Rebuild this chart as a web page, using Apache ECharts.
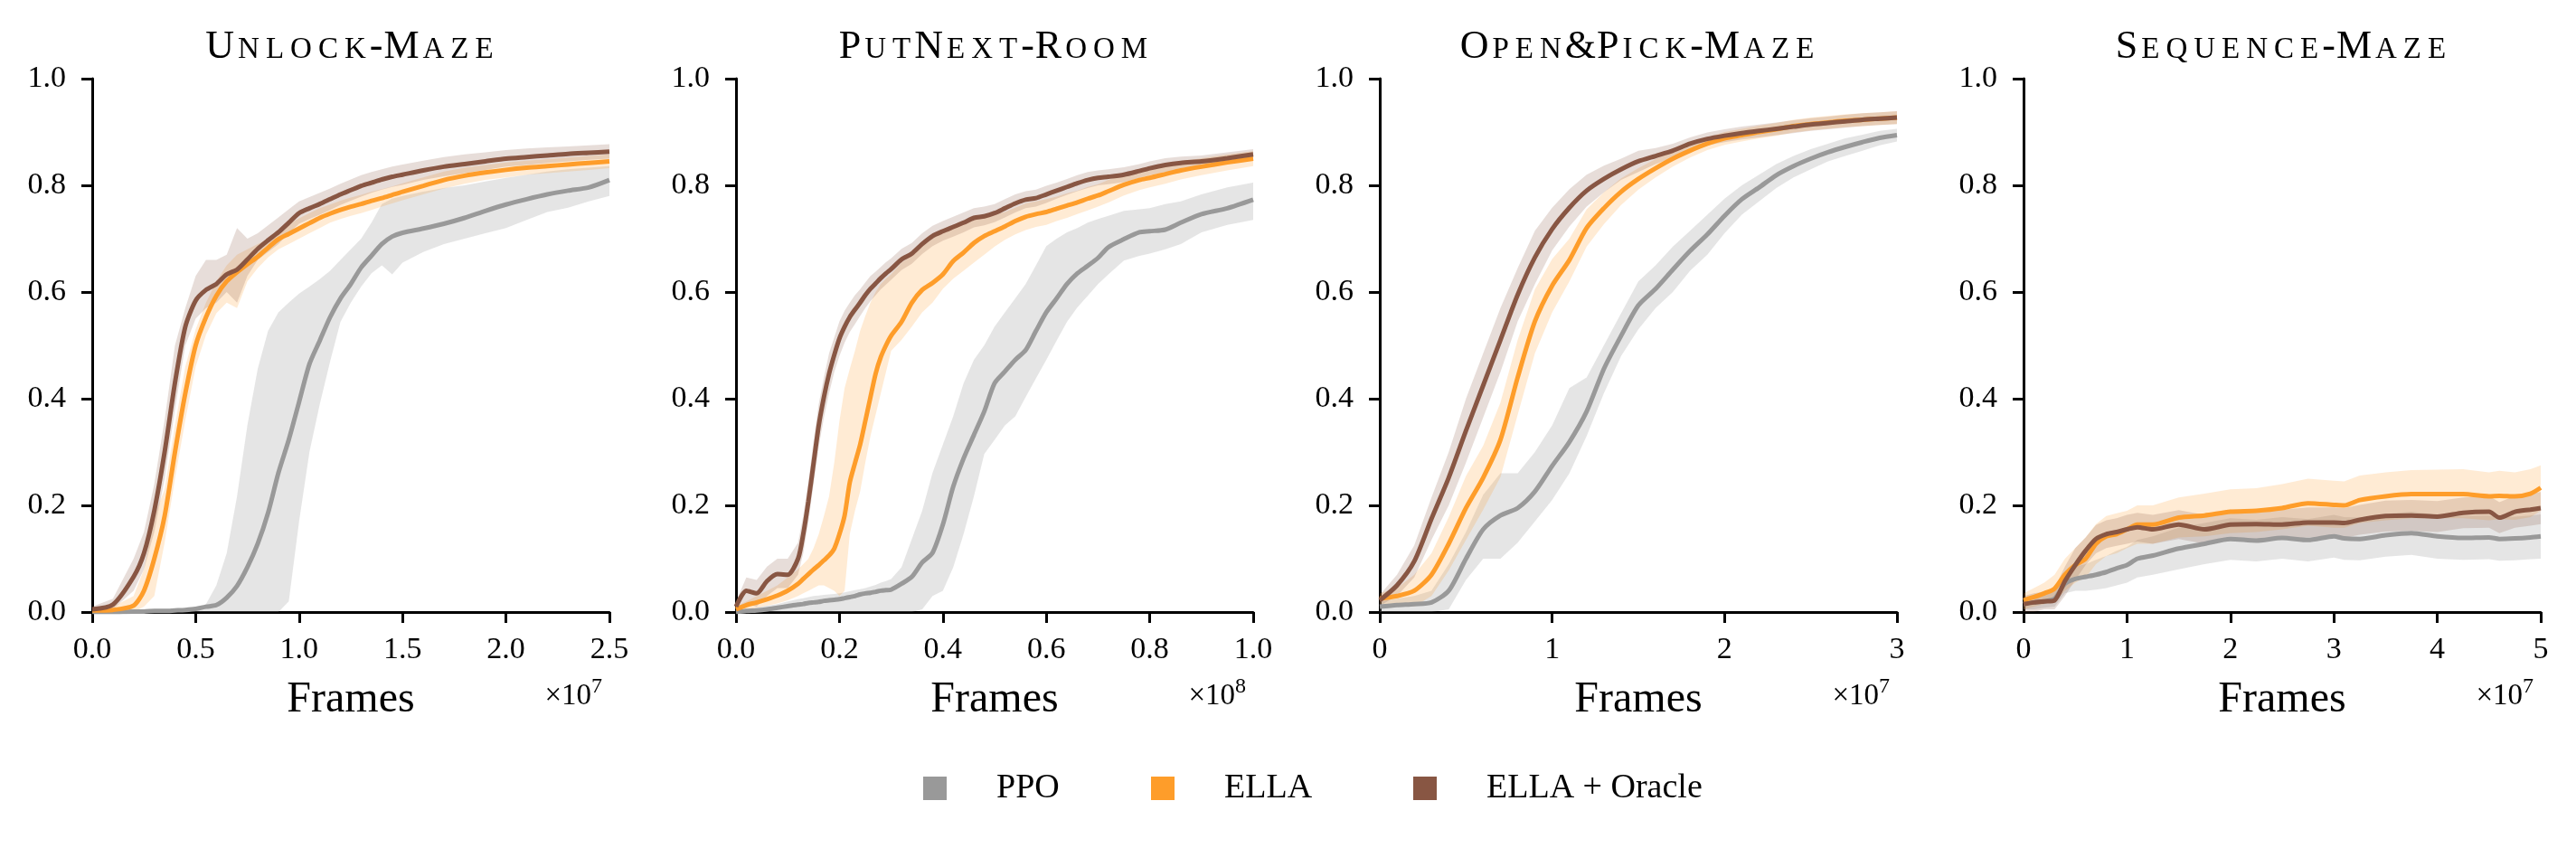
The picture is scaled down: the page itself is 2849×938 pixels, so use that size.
<!DOCTYPE html>
<html><head><meta charset="utf-8">
<script src="https://cdn.jsdelivr.net/npm/echarts/dist/echarts.min.js"></script>
<style>html,body{margin:0;padding:0;background:#fff}#c{width:2849px;height:938px}</style>
</head><body><div id="c"></div>
<script>
// ---------------- data ----------------
const METHODS = ['PPO', 'ELLA', 'ELLA + Oracle'];
const TITLES = ['Unlock-Maze', 'PutNext-Room', 'Open&Pick-Maze', 'Sequence-Maze'];
const X_MAX = [2.5, 1.0, 3, 5];
const X_INTERVAL = [0.5, 0.2, 1, 1];
const X_DECIMALS = [1, 1, 0, 0];
const X_EXPONENT = ['7', '8', '7', '7'];
const X_NAME = 'Frames';
const Y_MIN = 0, Y_MAX = 1, Y_INTERVAL = 0.2;

// Panel 1: Unlock-Maze (x in 1e7 frames)
const x1 = [0,0.1,0.2,0.25,0.3,0.35,0.4,0.45,0.5,0.55,0.6,0.65,0.7,0.75,0.8,0.85,0.9,0.95,1.0,1.05,1.1,1.15,1.2,1.25,1.3,1.35,1.4,1.45,1.5,1.6,1.7,1.8,1.9,2.0,2.1,2.2,2.3,2.4,2.5];
const ppo1Mean = [0,0,0.001,0.001,0.002,0.002,0.003,0.004,0.006,0.01,0.013,0.027,0.049,0.084,0.128,0.186,0.261,0.323,0.394,0.465,0.509,0.553,0.588,0.615,0.646,0.668,0.69,0.704,0.711,0.719,0.728,0.739,0.752,0.764,0.774,0.783,0.79,0.796,0.81];
const ppo1Lo = [0,0,0,0,0,0,0,0,0,0,0,0,0,0,0,0,0,0.02,0.17,0.30,0.39,0.47,0.544,0.58,0.61,0.635,0.65,0.633,0.655,0.675,0.69,0.70,0.71,0.72,0.735,0.75,0.758,0.77,0.78];
const ppo1Hi = [0.001,0.002,0.003,0.003,0.004,0.004,0.005,0.006,0.008,0.015,0.05,0.11,0.217,0.35,0.456,0.527,0.562,0.58,0.597,0.61,0.624,0.64,0.66,0.68,0.70,0.73,0.765,0.775,0.78,0.788,0.795,0.80,0.807,0.814,0.82,0.826,0.83,0.833,0.836];
const ella1Mean = [0.003,0.004,0.012,0.04,0.10,0.18,0.30,0.41,0.50,0.553,0.593,0.62,0.637,0.652,0.666,0.683,0.699,0.709,0.719,0.729,0.739,0.747,0.754,0.76,0.765,0.771,0.776,0.782,0.788,0.799,0.81,0.818,0.824,0.829,0.833,0.836,0.839,0.842,0.845];
const ella1Lo = [0,0,0,0.01,0.03,0.13,0.25,0.36,0.46,0.52,0.56,0.58,0.57,0.62,0.645,0.665,0.68,0.69,0.70,0.71,0.72,0.73,0.737,0.743,0.748,0.754,0.76,0.766,0.772,0.783,0.794,0.803,0.81,0.815,0.82,0.823,0.826,0.829,0.832];
const ella1Hi = [0.008,0.01,0.03,0.08,0.18,0.23,0.35,0.46,0.53,0.58,0.62,0.65,0.67,0.68,0.69,0.70,0.717,0.728,0.738,0.748,0.757,0.764,0.771,0.777,0.782,0.788,0.793,0.798,0.804,0.815,0.826,0.833,0.838,0.843,0.846,0.849,0.852,0.855,0.858];
const oracle1Mean = [0.005,0.014,0.066,0.11,0.19,0.30,0.43,0.535,0.584,0.604,0.615,0.633,0.642,0.661,0.681,0.697,0.712,0.73,0.748,0.757,0.765,0.774,0.783,0.791,0.799,0.805,0.811,0.816,0.82,0.828,0.835,0.84,0.845,0.85,0.853,0.856,0.859,0.861,0.863];
const oracle1Lo = [0,0.005,0.04,0.08,0.15,0.25,0.38,0.50,0.55,0.57,0.58,0.60,0.58,0.63,0.66,0.675,0.69,0.71,0.728,0.737,0.745,0.754,0.763,0.771,0.779,0.786,0.792,0.797,0.801,0.81,0.817,0.823,0.829,0.835,0.838,0.842,0.845,0.848,0.85];
const oracle1Hi = [0.01,0.025,0.10,0.15,0.24,0.36,0.50,0.57,0.63,0.66,0.66,0.67,0.72,0.70,0.71,0.725,0.74,0.755,0.77,0.778,0.786,0.794,0.803,0.811,0.819,0.825,0.83,0.835,0.839,0.846,0.853,0.858,0.862,0.866,0.869,0.871,0.873,0.875,0.877];

// Panel 2: PutNext-Room (x in 1e8 frames)
const x2 = [0,0.02,0.04,0.06,0.08,0.10,0.12,0.13,0.14,0.15,0.16,0.17,0.18,0.19,0.20,0.21,0.22,0.23,0.24,0.25,0.26,0.27,0.28,0.29,0.30,0.32,0.34,0.36,0.38,0.40,0.42,0.44,0.46,0.48,0.50,0.52,0.54,0.56,0.58,0.60,0.62,0.64,0.66,0.68,0.70,0.72,0.75,0.78,0.80,0.83,0.86,0.90,0.95,1.0];
const ppo2Mean = [0,0.002,0.003,0.005,0.008,0.011,0.014,0.015,0.017,0.018,0.019,0.021,0.022,0.023,0.024,0.026,0.028,0.03,0.033,0.035,0.036,0.038,0.04,0.041,0.042,0.053,0.066,0.093,0.111,0.164,0.235,0.288,0.332,0.376,0.429,0.451,0.473,0.491,0.527,0.562,0.588,0.615,0.635,0.649,0.664,0.684,0.699,0.712,0.714,0.717,0.73,0.746,0.757,0.773];
const ppo2Lo = [0,0,0,0,0,0,0,0,0,0,0,0,0,0,0,0,0,0,0,0,0,0,0,0,0,0,0,0.005,0.03,0.04,0.084,0.146,0.217,0.296,0.323,0.35,0.367,0.403,0.438,0.473,0.509,0.544,0.571,0.593,0.615,0.633,0.659,0.668,0.672,0.68,0.69,0.712,0.726,0.735];
const ppo2Hi = [0.003,0.006,0.009,0.012,0.015,0.02,0.024,0.026,0.028,0.03,0.031,0.032,0.033,0.034,0.035,0.037,0.039,0.041,0.043,0.045,0.048,0.051,0.055,0.058,0.062,0.084,0.137,0.19,0.261,0.314,0.367,0.429,0.473,0.5,0.535,0.562,0.588,0.615,0.65,0.686,0.70,0.712,0.72,0.73,0.737,0.743,0.752,0.755,0.757,0.765,0.77,0.783,0.796,0.805];
const ella2Mean = [0.005,0.013,0.018,0.024,0.031,0.04,0.053,0.062,0.071,0.08,0.088,0.097,0.106,0.119,0.146,0.181,0.243,0.279,0.314,0.358,0.403,0.447,0.478,0.5,0.518,0.544,0.58,0.604,0.617,0.633,0.658,0.674,0.692,0.705,0.714,0.723,0.733,0.741,0.746,0.75,0.756,0.762,0.768,0.775,0.781,0.789,0.801,0.81,0.814,0.821,0.828,0.835,0.843,0.85];
const ella2Lo = [0,0.005,0.008,0.012,0.016,0.022,0.03,0.035,0.04,0.045,0.05,0.05,0.045,0.04,0.03,0.04,0.146,0.19,0.226,0.28,0.33,0.37,0.41,0.45,0.49,0.51,0.535,0.562,0.58,0.606,0.625,0.64,0.655,0.67,0.685,0.698,0.708,0.716,0.722,0.726,0.733,0.739,0.746,0.753,0.76,0.768,0.781,0.791,0.796,0.803,0.811,0.819,0.828,0.836];
const ella2Hi = [0.01,0.02,0.03,0.04,0.05,0.065,0.08,0.09,0.10,0.12,0.146,0.18,0.217,0.28,0.358,0.42,0.456,0.49,0.527,0.555,0.58,0.60,0.615,0.625,0.633,0.655,0.668,0.685,0.70,0.712,0.72,0.728,0.735,0.74,0.745,0.75,0.758,0.766,0.77,0.774,0.779,0.785,0.79,0.797,0.802,0.81,0.821,0.829,0.832,0.839,0.845,0.851,0.858,0.864];
const oracle2Mean = [0.01,0.04,0.035,0.058,0.071,0.07,0.10,0.146,0.208,0.279,0.35,0.403,0.447,0.482,0.513,0.535,0.553,0.567,0.58,0.594,0.606,0.616,0.626,0.635,0.643,0.661,0.672,0.69,0.705,0.714,0.722,0.73,0.739,0.742,0.748,0.757,0.766,0.773,0.776,0.783,0.79,0.797,0.804,0.81,0.814,0.816,0.82,0.827,0.832,0.838,0.842,0.845,0.851,0.858];
const oracle2Lo = [0,0.015,0.01,0.03,0.045,0.045,0.07,0.11,0.17,0.24,0.31,0.365,0.41,0.45,0.48,0.505,0.525,0.54,0.555,0.57,0.583,0.594,0.605,0.614,0.623,0.641,0.653,0.671,0.686,0.696,0.704,0.712,0.721,0.725,0.731,0.74,0.749,0.757,0.76,0.767,0.775,0.782,0.789,0.795,0.8,0.802,0.806,0.814,0.819,0.825,0.83,0.834,0.84,0.847];
const oracle2Hi = [0.02,0.065,0.06,0.085,0.10,0.10,0.13,0.18,0.245,0.32,0.39,0.44,0.485,0.515,0.545,0.565,0.58,0.594,0.605,0.618,0.63,0.638,0.647,0.656,0.663,0.681,0.692,0.71,0.724,0.733,0.741,0.749,0.757,0.76,0.765,0.774,0.783,0.789,0.792,0.799,0.805,0.812,0.819,0.825,0.828,0.83,0.834,0.84,0.845,0.851,0.854,0.856,0.862,0.868];

// Panel 3: Open&Pick-Maze (x in 1e7 frames)
const x3 = [0,0.1,0.2,0.3,0.4,0.5,0.6,0.7,0.8,0.9,1.0,1.1,1.2,1.3,1.4,1.5,1.6,1.7,1.8,1.9,2.0,2.1,2.2,2.3,2.4,2.5,2.6,2.7,2.8,2.9,3.0];
const ppo3Mean = [0.01,0.013,0.015,0.018,0.04,0.10,0.155,0.181,0.195,0.226,0.274,0.319,0.376,0.456,0.518,0.575,0.606,0.642,0.677,0.708,0.743,0.774,0.796,0.819,0.836,0.85,0.862,0.872,0.881,0.889,0.894];
const ppo3Lo = [0,0,0,0,0.005,0.06,0.10,0.10,0.13,0.17,0.21,0.26,0.33,0.41,0.48,0.53,0.57,0.60,0.64,0.67,0.71,0.745,0.77,0.795,0.815,0.83,0.845,0.855,0.865,0.875,0.882];
const ppo3Hi = [0.02,0.025,0.03,0.04,0.09,0.15,0.22,0.26,0.26,0.30,0.35,0.42,0.44,0.50,0.56,0.62,0.65,0.685,0.715,0.745,0.775,0.80,0.82,0.84,0.855,0.868,0.878,0.888,0.895,0.902,0.906];
const ella3Mean = [0.025,0.03,0.04,0.07,0.128,0.195,0.252,0.323,0.44,0.545,0.612,0.66,0.72,0.757,0.788,0.812,0.832,0.85,0.865,0.878,0.888,0.894,0.9,0.905,0.911,0.915,0.918,0.921,0.923,0.925,0.927];
const ella3Lo = [0.015,0.015,0.01,0.03,0.078,0.135,0.192,0.253,0.37,0.485,0.562,0.62,0.685,0.727,0.763,0.792,0.815,0.835,0.852,0.866,0.876,0.882,0.888,0.893,0.899,0.903,0.906,0.909,0.911,0.913,0.915];
const ella3Hi = [0.035,0.045,0.07,0.11,0.178,0.255,0.312,0.393,0.51,0.605,0.662,0.70,0.755,0.787,0.813,0.832,0.849,0.865,0.878,0.89,0.9,0.906,0.912,0.917,0.923,0.927,0.93,0.933,0.935,0.937,0.939];
const oracle3Mean = [0.022,0.05,0.095,0.175,0.252,0.34,0.425,0.51,0.595,0.665,0.718,0.758,0.79,0.812,0.83,0.845,0.855,0.865,0.878,0.887,0.893,0.898,0.902,0.906,0.91,0.914,0.917,0.92,0.923,0.925,0.927];
const oracle3Lo = [0.012,0.03,0.065,0.135,0.20,0.28,0.365,0.45,0.545,0.615,0.678,0.723,0.76,0.787,0.81,0.825,0.84,0.852,0.866,0.875,0.881,0.886,0.89,0.894,0.898,0.902,0.905,0.908,0.911,0.913,0.915];
const oracle3Hi = [0.032,0.07,0.125,0.215,0.30,0.40,0.485,0.57,0.645,0.715,0.758,0.793,0.82,0.837,0.85,0.865,0.87,0.878,0.89,0.899,0.905,0.91,0.914,0.918,0.922,0.926,0.929,0.932,0.935,0.937,0.939];

// Panel 4: Sequence-Maze (x in 1e7 frames)
const x4 = [0,0.1,0.2,0.3,0.4,0.5,0.6,0.7,0.8,0.9,1.0,1.1,1.25,1.5,1.75,2.0,2.25,2.5,2.75,3.0,3.1,3.25,3.5,3.75,4.0,4.25,4.5,4.6,4.75,4.9,5.0];
const ppo4Mean = [0.015,0.018,0.02,0.025,0.053,0.062,0.066,0.07,0.075,0.082,0.088,0.1,0.106,0.119,0.128,0.137,0.134,0.139,0.135,0.142,0.138,0.137,0.144,0.148,0.142,0.139,0.14,0.137,0.138,0.14,0.142];
const ppo4Lo = [0.005,0.005,0.008,0.01,0.035,0.04,0.04,0.042,0.045,0.05,0.055,0.065,0.07,0.08,0.09,0.098,0.095,0.1,0.095,0.102,0.098,0.097,0.104,0.107,0.1,0.098,0.099,0.096,0.097,0.099,0.1];
const ppo4Hi = [0.025,0.03,0.035,0.04,0.07,0.085,0.09,0.098,0.105,0.115,0.122,0.135,0.142,0.158,0.167,0.176,0.173,0.178,0.174,0.182,0.178,0.177,0.184,0.188,0.182,0.18,0.181,0.178,0.179,0.181,0.183];
const ella4Mean = [0.022,0.028,0.035,0.044,0.07,0.088,0.10,0.128,0.142,0.146,0.155,0.164,0.164,0.177,0.181,0.188,0.19,0.195,0.204,0.201,0.2,0.21,0.217,0.221,0.221,0.221,0.217,0.218,0.217,0.222,0.233];
const ella4Lo = [0.005,0.01,0.015,0.02,0.04,0.055,0.065,0.09,0.105,0.11,0.12,0.128,0.128,0.14,0.142,0.148,0.15,0.155,0.162,0.158,0.158,0.167,0.172,0.176,0.176,0.176,0.172,0.174,0.173,0.178,0.19];
const ella4Hi = [0.035,0.045,0.055,0.07,0.10,0.12,0.14,0.165,0.18,0.185,0.19,0.2,0.2,0.215,0.222,0.23,0.232,0.24,0.25,0.246,0.245,0.256,0.262,0.266,0.267,0.268,0.262,0.265,0.262,0.268,0.275];
const oracle4Mean = [0.015,0.018,0.02,0.022,0.058,0.088,0.115,0.137,0.146,0.15,0.155,0.159,0.155,0.164,0.155,0.164,0.165,0.164,0.168,0.168,0.167,0.173,0.18,0.181,0.179,0.186,0.188,0.177,0.188,0.192,0.195];
const oracle4Lo = [0,0,0.005,0.005,0.03,0.06,0.088,0.11,0.12,0.124,0.128,0.132,0.128,0.137,0.128,0.136,0.137,0.136,0.14,0.14,0.139,0.145,0.151,0.152,0.15,0.157,0.158,0.148,0.158,0.162,0.165];
const oracle4Hi = [0.03,0.035,0.038,0.045,0.085,0.12,0.14,0.163,0.172,0.176,0.182,0.186,0.182,0.191,0.182,0.192,0.193,0.192,0.196,0.196,0.195,0.201,0.209,0.21,0.208,0.215,0.218,0.206,0.218,0.222,0.225];

// ---------------- style ----------------
const COLORS = ['#999999', '#fe9d2a', '#885643'];
const BAND_OPACITY = [0.25, 0.2, 0.2];
const FONT = 'Liberation Serif';

const PANEL_X = [x1, x2, x3, x4];
const PANEL_SERIES = [
  [[ppo1Mean, ppo1Lo, ppo1Hi], [ella1Mean, ella1Lo, ella1Hi], [oracle1Mean, oracle1Lo, oracle1Hi]],
  [[ppo2Mean, ppo2Lo, ppo2Hi], [ella2Mean, ella2Lo, ella2Hi], [oracle2Mean, oracle2Lo, oracle2Hi]],
  [[ppo3Mean, ppo3Lo, ppo3Hi], [ella3Mean, ella3Lo, ella3Hi], [oracle3Mean, oracle3Lo, oracle3Hi]],
  [[ppo4Mean, ppo4Lo, ppo4Hi], [ella4Mean, ella4Lo, ella4Hi], [oracle4Mean, oracle4Lo, oracle4Hi]]
];

const GRID_LEFT0 = 102, GRID_STEP = 712, GRID_W = 572, GRID_TOP = 87, GRID_H = 590;

function smallCaps(str) {
  let out = '';
  for (const ch of str) {
    if (/[a-z]/.test(ch)) out += '{s|' + ch.toUpperCase() + '}';
    else out += '{b|' + ch + '}';
  }
  return out;
}

// band renderer: one polygon (upper edge forward, lower edge backward) placed through the axis scales
function makeBandRenderer(bandData, color, opacity) {
  return function (params, api) {
    if (params.dataIndex !== 0) return null;
    const top = [], bottom = [];
    for (let j = 0; j < bandData.length; j++) {
      top.push(api.coord([bandData[j][0], bandData[j][2]]));
      bottom.push(api.coord([bandData[j][0], bandData[j][1]]));
    }
    return {
      type: 'polygon', shape: { points: top.concat(bottom.reverse()) }, silent: true,
      style: { fill: color, opacity: opacity, stroke: null }
    };
  };
}

const grids = [], xAxes = [], yAxes = [], series = [], graphics = [];
for (let p = 0; p < 4; p++) {
  const left = GRID_LEFT0 + GRID_STEP * p;
  grids.push({ left: left, top: GRID_TOP, width: GRID_W, height: GRID_H, containLabel: false });
  const dec = X_DECIMALS[p];
  xAxes.push({
    type: 'value', gridIndex: p, min: 0, max: X_MAX[p], interval: X_INTERVAL[p],
    axisLine: { show: true, onZero: false, lineStyle: { color: '#000', width: 3 } },
    axisTick: { show: true, length: 12, lineStyle: { color: '#000', width: 3 } },
    axisLabel: { fontSize: 34, fontFamily: FONT, color: '#000', margin: 25, showMaxLabel: true,
      formatter: v => (+v).toFixed(dec) },
    splitLine: { show: false },
    name: X_NAME, nameLocation: 'middle', nameGap: 73,
    nameTextStyle: { fontSize: 48, fontFamily: FONT, color: '#000' }
  });
  yAxes.push({
    type: 'value', gridIndex: p, min: Y_MIN, max: Y_MAX, interval: Y_INTERVAL,
    axisLine: { show: true, lineStyle: { color: '#000', width: 3 } },
    axisTick: { show: true, length: 12, lineStyle: { color: '#000', width: 3 } },
    axisLabel: { fontSize: 34, fontFamily: FONT, color: '#000', margin: 29,
      formatter: v => (+v).toFixed(1) },
    splitLine: { show: false }
  });
  const xs = PANEL_X[p];
  PANEL_SERIES[p].forEach((arr, k) => {
    const lo = arr[1], hi = arr[2];
    const bandData = xs.map((x, j) => [x, lo[j], hi[j]]);
    series.push({
      type: 'custom', xAxisIndex: p, yAxisIndex: p, silent: true, clip: true,
      data: bandData, encode: { x: 0, y: [1, 2] },
      renderItem: makeBandRenderer(bandData, COLORS[k], BAND_OPACITY[k]),
      z: 1
    });
  });
  PANEL_SERIES[p].forEach((arr, k) => {
    const mean = arr[0];
    series.push({
      type: 'line', name: METHODS[k], xAxisIndex: p, yAxisIndex: p,
      data: xs.map((x, j) => [x, mean[j]]), symbol: 'none', smooth: 0.25,
      lineStyle: { color: COLORS[k], width: 5 }, itemStyle: { color: COLORS[k] }, z: 3
    });
  });
  graphics.push({
    type: 'text', x: left + GRID_W / 2, y: 74, silent: true,
    style: {
      text: smallCaps(TITLES[p]), align: 'center', verticalAlign: 'bottom',
      rich: {
        b: { fontSize: 44, fontFamily: FONT, fill: '#000', color: '#000', verticalAlign: 'bottom', padding: [0, 0.5, 0, 0.5] },
        s: { fontSize: 33, fontFamily: FONT, fill: '#000', color: '#000', verticalAlign: 'bottom', padding: [0, 3.5, 2, 3.5] }
      }
    }
  });
  graphics.push({
    type: 'text', x: left + GRID_W - 8, y: 787, silent: true,
    style: {
      text: '{a|×10}{e|' + X_EXPONENT[p] + '}', align: 'right', verticalAlign: 'bottom',
      rich: {
        a: { fontSize: 33, fontFamily: FONT, fill: '#000', color: '#000', verticalAlign: 'bottom' },
        e: { fontSize: 24, fontFamily: FONT, fill: '#000', color: '#000', verticalAlign: 'bottom', padding: [0, 0, 15, 0] }
      }
    }
  });
}

const LEGEND_LEFT = [1016, 1268, 1558];
const legends = METHODS.map((m, k) => ({
  data: [m], left: LEGEND_LEFT[k], top: 848, orient: 'horizontal', selectedMode: false,
  icon: 'rect', itemWidth: 26, itemHeight: 26,
  textStyle: { fontSize: 38, fontFamily: FONT, color: '#000', padding: [0, 0, 0, 50] }
}));

const chart = echarts.init(document.getElementById('c'), null, { renderer: 'canvas', width: 2849, height: 938 });
chart.setOption({
  animation: false,
  backgroundColor: '#ffffff',
  textStyle: { fontFamily: FONT },
  grid: grids, xAxis: xAxes, yAxis: yAxes, series: series,
  legend: legends, graphic: graphics
});
</script></body></html>
